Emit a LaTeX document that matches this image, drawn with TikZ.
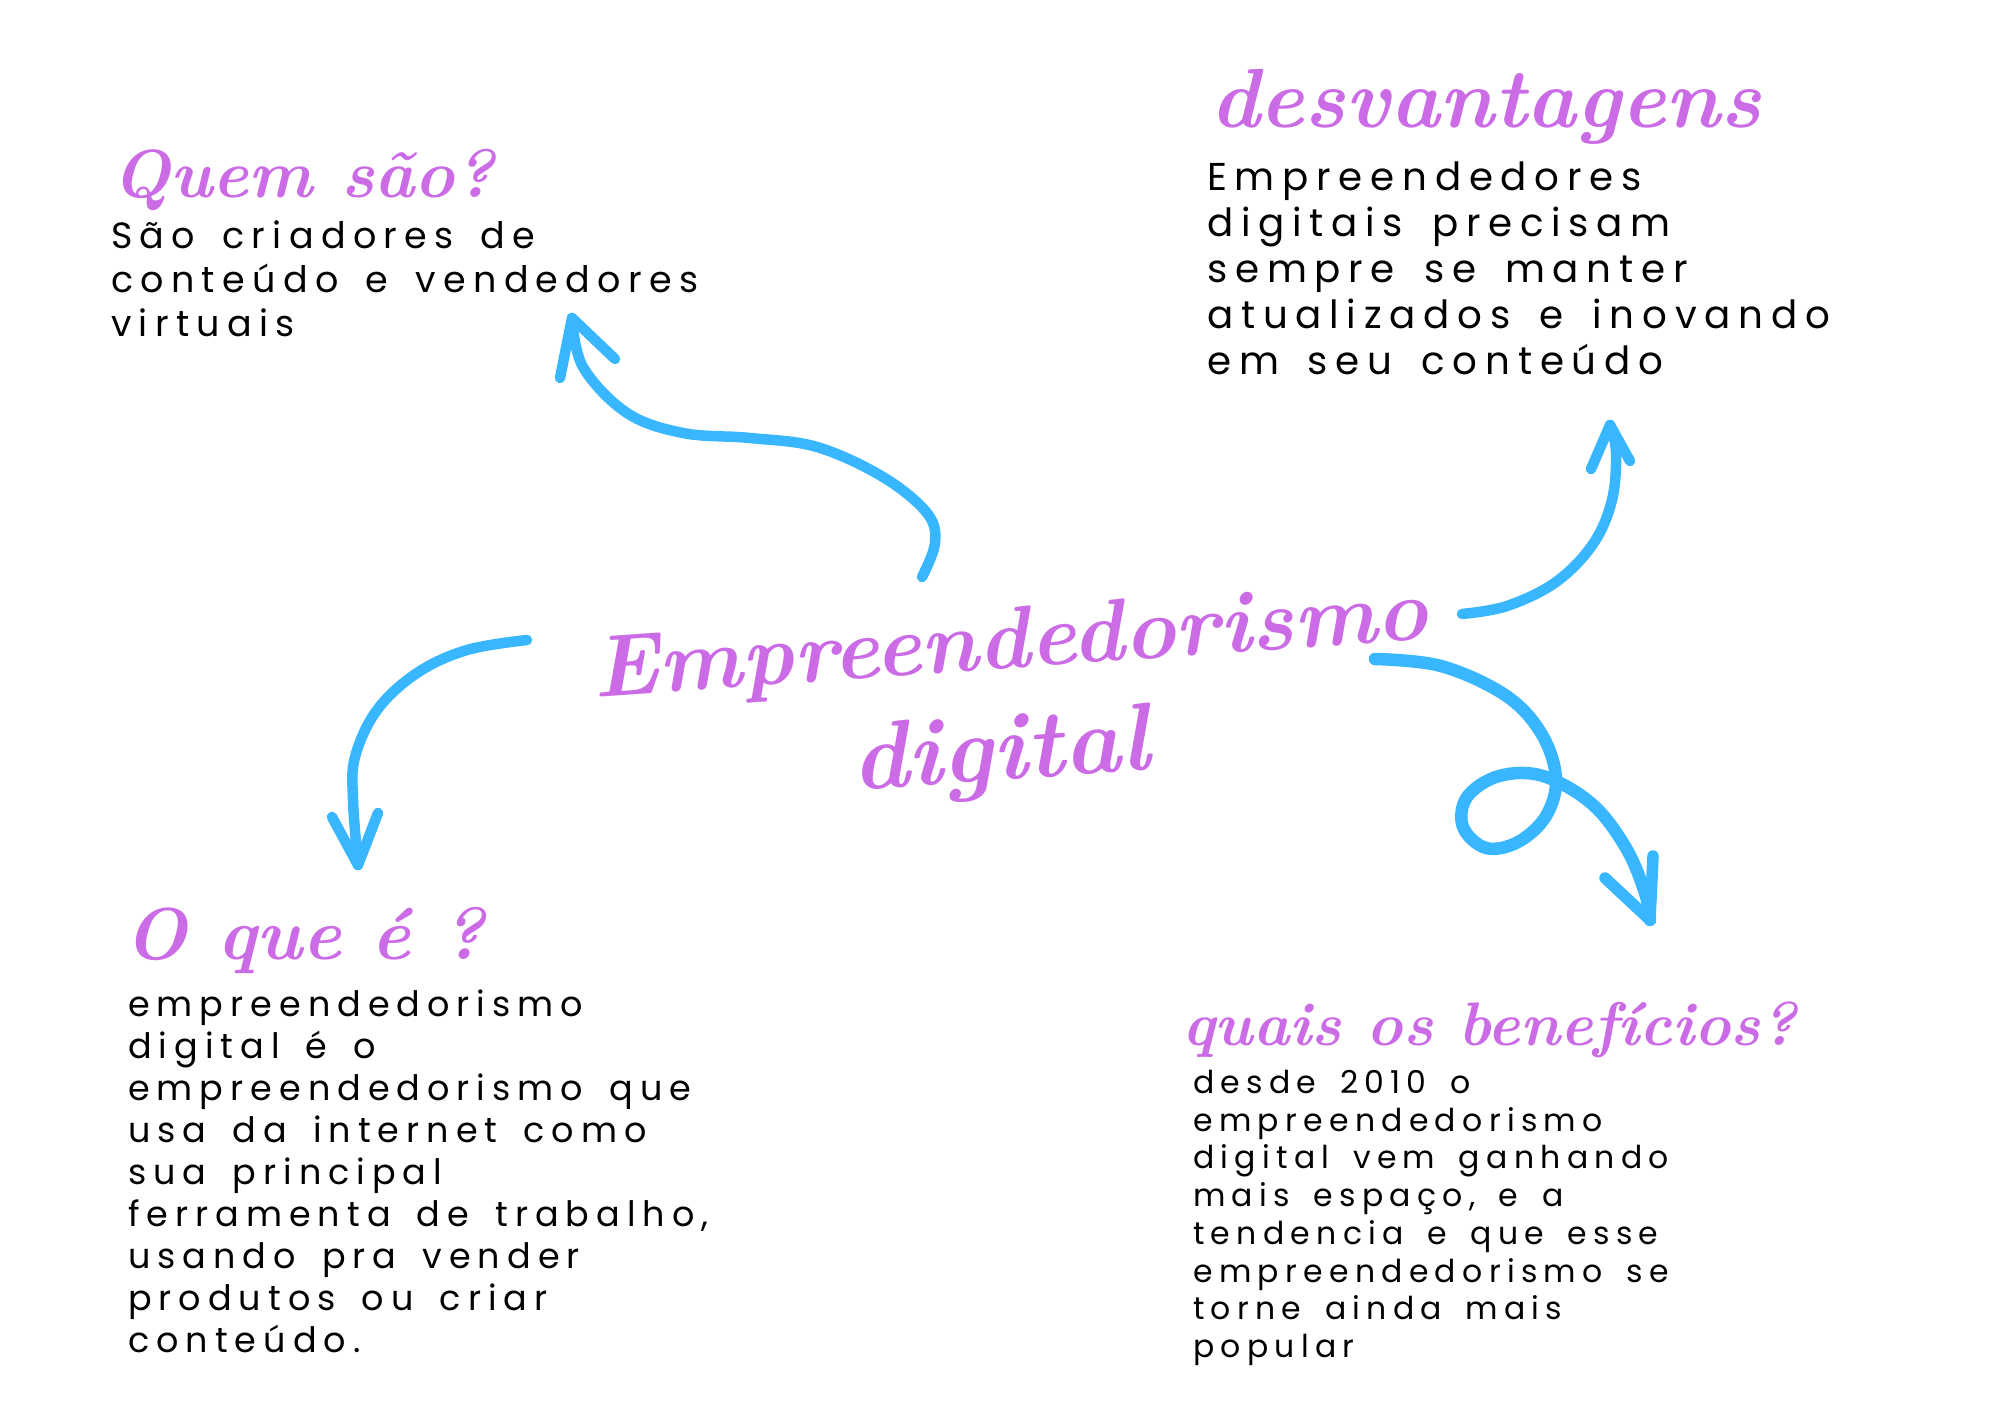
\documentclass[tikz,border=0pt]{standalone}
\usepackage{fontspec}
\newfontfamily\bodyf[LetterSpace=20, WordSpace=1.6]{Poppins}
\definecolor{arrowblue}{HTML}{38B6FF}
\definecolor{titlepurple}{HTML}{CB6CE6}
\tikzset{
  bodyline/.style={anchor=base west, inner sep=0pt, text=black},
  titletext/.style={anchor=base west, inner sep=0pt, text=titlepurple, font=\bfseries\itshape},
  arrowline/.style={draw=arrowblue, line width=10.5bp, line cap=round, line join=round},
}
\newcommand{\fs}[1]{\fontsize{#1bp}{#1bp}\selectfont}
\begin{document}
\begin{tikzpicture}[x=1bp,y=-1bp]
\useasboundingbox (0,0) rectangle (2000,1414);
\fill[white] (0,0) rectangle (2000,1414);

% ---------- titles ----------
\node[titletext] (tq) at (112,198) {\fs{68}Quem são?};
\node[titletext] (td) at (1210,128) {\fs{84}desvantagens};
\node[titletext] (to) at (124,959) {\fs{73.5}O que é ?};
\node[titletext] (tb) at (1182,1045) {\fs{61.5}quais os benefícios?};
\node[titletext, anchor=base, rotate=4] (c1) at (1012,668) {\fs{88}Empreendedorismo};
\node[titletext, anchor=base, rotate=4] (c2) at (1002,780) {\fs{96}digital};

% ---------- Quem são ----------
\begin{scope}[every node/.append style={font=\bodyf\fs{36.5}}]
\node[bodyline] (q1) at (111,249) {São criadores de};
\node[bodyline] (q2) at (111,293) {conteúdo e vendedores};
\node[bodyline] (q3) at (111,337) {virtuais};
\end{scope}

% ---------- desvantagens ----------
\begin{scope}[every node/.append style={font=\bodyf\fs{38.8}}]
\node[bodyline] (d1) at (1207,191) {Empreendedores};
\node[bodyline] (d2) at (1207,237) {digitais precisam};
\node[bodyline] (d3) at (1207,283) {sempre se manter};
\node[bodyline] (d4) at (1207,329) {atualizados e inovando};
\node[bodyline] (d5) at (1207,375) {em seu conteúdo};
\end{scope}

% ---------- O que e ----------
\begin{scope}[every node/.append style={font=\bodyf\fs{35}}]
\node[bodyline] (o1) at (128,1016) {empreendedorismo};
\node[bodyline] (o2) at (128,1058) {digital é o};
\node[bodyline] (o3) at (128,1100) {empreendedorismo que};
\node[bodyline] (o4) at (128,1142) {usa da internet como};
\node[bodyline] (o5) at (128,1184) {sua principal};
\node[bodyline] (o6) at (128,1226) {ferramenta de trabalho,};
\node[bodyline] (o7) at (128,1268) {usando pra vender};
\node[bodyline] (o8) at (128,1310) {produtos ou criar};
\node[bodyline] (o9) at (128,1352) {conteúdo.};
\end{scope}

% ---------- beneficios ----------
\begin{scope}[every node/.append style={font=\bodyf\fs{31.5}}]
\node[bodyline] (b1) at (1193,1093) {desde 2010 o};
\node[bodyline] (b2) at (1193,1131) {empreendedorismo};
\node[bodyline] (b3) at (1193,1168) {digital vem ganhando};
\node[bodyline] (b4) at (1193,1206) {mais espaço, e a};
\node[bodyline] (b5) at (1193,1244) {tendencia e que esse};
\node[bodyline] (b6) at (1193,1282) {empreendedorismo se};
\node[bodyline] (b7) at (1193,1319) {torne ainda mais};
\node[bodyline] (b8) at (1193,1357) {popular};
\end{scope}

% ---------- arrow coordinates ----------
\coordinate (sA) at (922,577);
\coordinate (tA) at (572,318);
\coordinate (sB) at (1462,614);
\coordinate (tB) at (1610,425);
\coordinate (sC) at (1375,659);
\coordinate (tC) at (1650,920);
\coordinate (sD) at (527,640);
\coordinate (tD) at (358,865);

% arrow to "Quem sao"
\draw[arrowline] plot[smooth, tension=0.6] coordinates {(sA) (935,543) (927,513) (883,477) (817,447) (750,438) (683,433) (627,413) (583,367) (tA)};
\draw[arrowline] (560,378) -- (tA) -- (615,359);

% arrow to "desvantagens"
\draw[arrowline] plot[smooth, tension=0.6] coordinates {(sB) (1507,606) (1556,582) (1593,544) (1612,500) (1616,452) (tB)};
\draw[arrowline] (1591,469) -- (tB) -- (1630,461);

% loop arrow to "beneficios"
\draw[arrowline, line width=12.5bp] plot[smooth, tension=0.6] coordinates {(sC) (1441,666) (1505,695) (1541,733) (1556,778) (1546,816) (1518,842) (1486,848) (1463,827) (1467,797) (1499,776) (1543,776) (1592,804) (1626,848) (1645,893) (tC)};
\draw[arrowline, line width=11.5bp] (1605,878) -- (tC) -- (1653,856);

% arrow to "O que e"
\draw[arrowline] plot[smooth, tension=0.6] coordinates {(sD) (467,650) (417,673) (377,710) (355,757) (353,800) (tD)};
\draw[arrowline] (332,817) -- (tD) -- (378,813);
\end{tikzpicture}
\end{document}
